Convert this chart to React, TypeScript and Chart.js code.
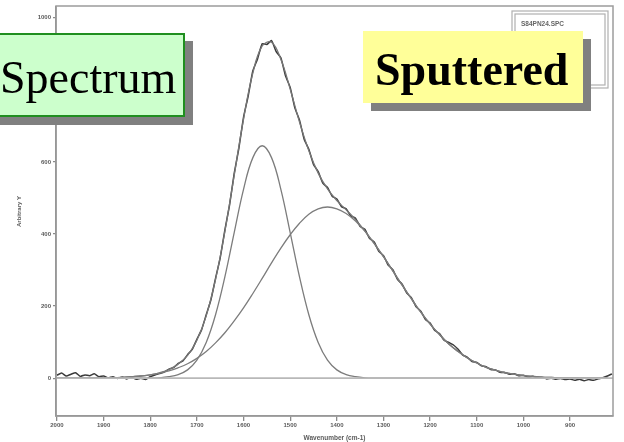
import React, { useEffect, useRef } from "react";
import { Chart, registerables } from "chart.js";

Chart.register(...registerables);

// ---- data ----
const rawWavenumbers = [
  2000, 1990, 1980, 1970, 1960, 1950, 1940, 1930, 1920, 1910,
  1900, 1890, 1880, 1870, 1860, 1850, 1840, 1830, 1820, 1810,
  1800, 1790, 1780, 1770, 1760, 1750, 1740, 1730, 1720, 1710,
  1700, 1690, 1680, 1670, 1660, 1650, 1640, 1630, 1620, 1610,
  1600, 1590, 1580, 1570, 1560, 1550, 1540, 1530, 1520, 1510,
  1500, 1490, 1480, 1470, 1460, 1450, 1440, 1430, 1420, 1410,
  1400, 1390, 1380, 1370, 1360, 1350, 1340, 1330, 1320, 1310,
  1300, 1290, 1280, 1270, 1260, 1250, 1240, 1230, 1220, 1210,
  1200, 1190, 1180, 1170, 1160, 1150, 1140, 1130, 1120, 1110,
  1100, 1090, 1080, 1070, 1060, 1050, 1040, 1030, 1020, 1010,
  1000, 990, 980, 970, 960, 950, 940, 930, 920, 910,
  900, 890, 880, 870, 860, 850, 840, 830, 820, 810,
];

const rawIntensity = [
  8, 14, 6, 11, 15, 5, 9, 7, 12, 4,
  6, 1, 4, -1, 3, -2, 2, -3, 0, -4,
  4, 9, 13, 17, 25, 29, 41, 48, 65, 80,
  108, 134, 176, 217, 277, 334, 411, 480, 568, 638,
  724, 783, 853, 886, 928, 926, 937, 906, 889, 839,
  807, 750, 716, 663, 635, 593, 573, 541, 529, 505,
  497, 476, 470, 450, 444, 421, 413, 388, 378, 352,
  340, 314, 301, 274, 261, 236, 223, 198, 186, 163,
  153, 132, 124, 105, 99, 92, 80, 64, 58, 46,
  44, 34, 32, 24, 23, 16, 16, 11, 12, 7,
  8, 3, 5, 1, 2, -2, 0, -3, -1, -4,
  -2, -6, -3, -7, -4, -6, -2, 1, 6, 12,
];

const bandWavenumbers = [
  2000, 1980, 1960, 1940, 1920, 1900, 1880, 1860, 1840, 1820,
  1800, 1780, 1760, 1740, 1720, 1700, 1680, 1660, 1640, 1620,
  1600, 1580, 1560, 1540, 1520, 1500, 1480, 1460, 1440, 1420,
  1400, 1380, 1360, 1340, 1320, 1300, 1280, 1260, 1240, 1220,
  1200, 1180, 1160, 1140, 1120, 1100, 1080, 1060, 1040, 1020,
  1000, 980, 960, 940, 920, 900, 880, 860, 840, 820,
];

const gBand = [
  0, 0, 0, 0, 0, 0, 0, 0, 0, 0,
  0, 1, 4, 10, 23, 50, 99, 176, 281, 404,
  524, 612, 645, 612, 524, 404, 281, 176, 99, 50,
  23, 10, 4, 1, 0, 0, 0, 0, 0, 0,
  0, 0, 0, 0, 0, 0, 0, 0, 0, 0,
  0, 0, 0, 0, 0, 0, 0, 0, 0, 0,
];

const dBand = [
  0, 0, 0, 0, 0, 1, 1, 2, 4, 6,
  9, 14, 20, 29, 40, 55, 74, 98, 126, 159,
  195, 235, 277, 320, 361, 398, 430, 455, 470, 475,
  470, 457, 436, 408, 374, 337, 298, 258, 220, 183,
  150, 121, 95, 74, 56, 42, 30, 22, 15, 11,
  7, 5, 3, 2, 1, 1, 0, 0, 0, 0,
];

const fitSum = [
  0, 0, 0, 0, 0, 1, 1, 2, 4, 6,
  9, 15, 24, 39, 63, 105, 173, 274, 407, 563,
  719, 847, 922, 932, 885, 802, 711, 631, 569, 525,
  493, 467, 440, 409, 374, 337, 298, 258, 220, 183,
  150, 121, 95, 74, 56, 42, 30, 22, 15, 11,
  7, 5, 3, 2, 1, 1, 0, 0, 0, 0,
];

const baselineWavenumbers = [2002, 808];
const baselineIntensity = [0, 0];

const xTickValues = [2000, 1900, 1800, 1700, 1600, 1500, 1400, 1300, 1200, 1100, 1000, 900];
const yTickValues = [0, 200, 400, 600, 800, 1000];

const xTitle = "Wavenumber (cm-1)";
const yTitle = "Arbitrary Y";
const legendLabel = "S84PN24.SPC";
const labelLeft = "Spectrum";
const labelRight = "Sputtered";

const pts = (xs: number[], ys: number[]) => xs.map((x, i) => ({ x, y: ys[i] }));

const framePlugin = {
  id: "frameAndLegend",
  afterDatasetsDraw(chart: any) {
    const { ctx, chartArea: a } = chart;
    ctx.save();
    ctx.strokeStyle = "#9c9c9c";
    ctx.lineWidth = 1.5;
    ctx.strokeRect(a.left, a.top - 1, a.right - a.left, a.bottom - a.top + 1);
    // legend box (double frame)
    const bx = a.right - 101;
    const by = a.top + 4;
    const bw = 96;
    const bh = 77;
    ctx.strokeStyle = "#b0b0b0";
    ctx.lineWidth = 1.2;
    ctx.strokeRect(bx, by, bw, bh);
    ctx.strokeRect(bx + 3, by + 3, bw - 6, bh - 6);
    ctx.fillStyle = "#666666";
    ctx.font = "bold 6.5px 'Liberation Sans', Arial, sans-serif";
    ctx.textBaseline = "middle";
    ctx.fillText(legendLabel, bx + 9, by + 13);
    ctx.restore();
  },
};

export default function App() {
  const ref = useRef<HTMLCanvasElement>(null);

  useEffect(() => {
    document.body.style.margin = "0";
    const tickFont = { family: "'Liberation Sans', Arial, sans-serif", size: 6, weight: "bold" as const };
    const chart = new Chart(ref.current as HTMLCanvasElement, {
      type: "line",
      data: {
        datasets: [
          {
            label: "Baseline",
            data: pts(baselineWavenumbers, baselineIntensity),
            borderColor: "#b8b8b8",
            borderWidth: 1.6,
            pointRadius: 0,
          },
          {
            label: "G band",
            data: pts(bandWavenumbers, gBand),
            borderColor: "#7c7c7c",
            borderWidth: 1.3,
            pointRadius: 0,
            tension: 0.4,
          },
          {
            label: "D band",
            data: pts(bandWavenumbers, dBand),
            borderColor: "#7c7c7c",
            borderWidth: 1.3,
            pointRadius: 0,
            tension: 0.4,
          },
          {
            label: "Fit",
            data: pts(bandWavenumbers, fitSum),
            borderColor: "#777777",
            borderWidth: 1.3,
            pointRadius: 0,
            tension: 0.4,
          },
          {
            label: "Spectrum",
            data: pts(rawWavenumbers, rawIntensity),
            borderColor: "#3a3a3a",
            borderWidth: 1.5,
            pointRadius: 0,
            tension: 0.15,
          },
        ],
      },
      options: {
        animation: false,
        responsive: false,
        layout: { padding: { top: 7, right: 11, left: 0, bottom: 0 } },
        plugins: { legend: { display: false }, tooltip: { enabled: false } },
        scales: {
          x: {
            type: "linear",
            reverse: true,
            min: 808,
            max: 2002,
            afterBuildTicks: (s: any) => {
              s.ticks = xTickValues.map((v) => ({ value: v }));
            },
            afterFit: (s: any) => {
              s.height = 26;
            },
            ticks: {
              font: tickFont,
              color: "#5a5a5a",
              padding: 1,
              maxRotation: 0,
              autoSkip: false,
              callback: (v: any) => String(v),
            },
            grid: {
              display: true,
              drawOnChartArea: false,
              drawTicks: true,
              tickLength: 5,
              color: "#8a8a8a",
              lineWidth: 1.3,
            },
            border: { display: true, color: "#8a8a8a", width: 1.6 },
            title: {
              display: true,
              text: xTitle,
              color: "#5a5a5a",
              font: { family: "'Liberation Sans', Arial, sans-serif", size: 6.5, weight: "bold" },
              padding: { top: 1, bottom: 0 },
            },
          },
          y: {
            type: "linear",
            min: -105,
            max: 1030,
            afterBuildTicks: (s: any) => {
              s.ticks = yTickValues.map((v) => ({ value: v }));
            },
            afterFit: (s: any) => {
              s.width = 56;
            },
            ticks: {
              font: tickFont,
              color: "#5a5a5a",
              padding: 2,
              callback: (v: any) => String(v),
            },
            grid: {
              display: true,
              drawOnChartArea: false,
              drawTicks: true,
              tickLength: 3,
              color: "#8a8a8a",
              lineWidth: 1.2,
            },
            border: { display: true, color: "#8a8a8a", width: 1.6 },
            title: {
              display: true,
              text: yTitle,
              color: "#5a5a5a",
              font: { family: "'Liberation Sans', Arial, sans-serif", size: 6, weight: "bold" },
              padding: { top: 16, bottom: 0 },
            },
          },
        },
      },
      plugins: [framePlugin],
    });
    return () => chart.destroy();
  }, []);

  const boxFont = "'Liberation Serif', 'Times New Roman', serif";

  return (
    <div style={{ position: "relative", width: 624, height: 442, overflow: "hidden", background: "#fff" }}>
      <canvas ref={ref} width={624} height={442} style={{ display: "block" }} />
      <div
        style={{
          position: "absolute",
          left: -12,
          top: 33,
          width: 197,
          height: 84,
          boxSizing: "border-box",
          background: "#ccffcc",
          border: "2px solid #1f8f1f",
          boxShadow: "8px 8px 0 #808080",
          fontFamily: boxFont,
          fontSize: 46,
          lineHeight: "53px",
          paddingLeft: 10,
          paddingTop: 16,
          color: "#000",
          whiteSpace: "nowrap",
        }}
      >
        {labelLeft}
      </div>
      <div
        style={{
          position: "absolute",
          left: 363,
          top: 31,
          width: 220,
          height: 72,
          boxSizing: "border-box",
          background: "#ffff99",
          boxShadow: "8px 8px 0 #808080",
          fontFamily: boxFont,
          fontSize: 46,
          fontWeight: "bold",
          lineHeight: "53px",
          paddingLeft: 12,
          paddingTop: 12,
          color: "#000",
          whiteSpace: "nowrap",
        }}
      >
        {labelRight}
      </div>
    </div>
  );
}
